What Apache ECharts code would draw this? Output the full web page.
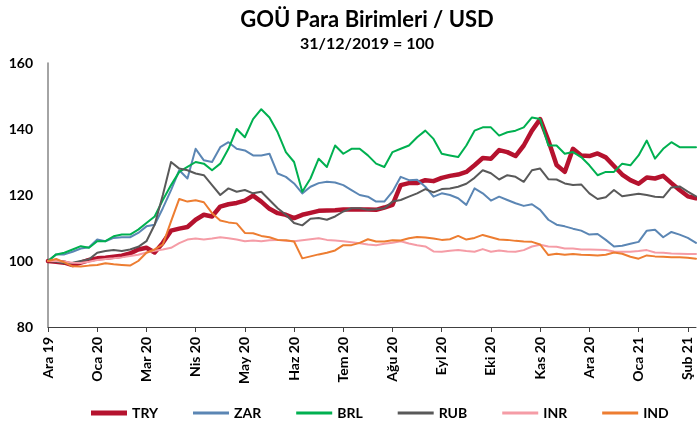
<!DOCTYPE html>
<html>
<head>
<meta charset="utf-8">
<title>GOÜ Para Birimleri / USD</title>
<script src="https://cdn.jsdelivr.net/npm/echarts@6/dist/echarts.min.js"></script>
<style>
  html, body {
    margin: 0;
    padding: 0;
    background: #fff;
  }
  #chart-line {
    width: 697px;
    height: 423px;
  }
</style>
</head>
<body>
<div id="chart-line"></div>
<script>
// ay etiketleri (her 6 noktada bir)
const tickLabels = ['Ara 19', 'Oca 20', 'Mar 20', 'Nis 20', 'May 20', 'Haz 20', 'Tem 20',
  'Ağu 20', 'Eyl 20', 'Eki 20', 'Kas 20', 'Ara 20', 'Oca 21', 'Şub 21']
const labelStep = 6

// 31/12/2019 = 100
const tryData = [100, 99.8, 99.5, 98.8, 99.5, 100.3, 100.8, 101, 101.3, 101.6,
  102.3, 103.5, 104, 102.6, 105.5, 109.2, 109.8, 110.3, 112.5, 114,
  113.5, 116.5, 117.2, 117.6, 118.3, 119.8, 118, 115.8, 114.5, 114,
  113, 114, 114.6, 115.2, 115.3, 115.4, 115.6, 115.6, 115.6, 115.6,
  115.5, 116.2, 117, 123, 123.6, 123.6, 124.5, 124.2, 125.2, 125.8,
  126.2, 127, 129, 131.2, 131, 133.6, 133, 131.8, 135, 139.5,
  143, 136.5, 129.1, 127, 134, 132, 131.8, 132.6, 131.4, 128.8,
  126.2, 124.5, 123.4, 125.3, 125, 125.8, 123.6, 121.5, 119.6, 119]
const zarData = [100, 102, 102, 102.8, 103.8, 104.2, 106.5, 106, 107, 107.2,
  107.2, 108.5, 110.5, 111, 116, 121.5, 127.5, 125, 134, 130.5,
  130, 134.5, 136, 134, 133.5, 132, 132, 132.5, 126.5, 125.5,
  123.5, 120.5, 122.5, 123.6, 124, 123.8, 123, 121.5, 120, 119.5,
  118, 118, 121, 125.5, 124.5, 124.6, 122.5, 119.5, 120.5, 120,
  119, 117, 122, 120.5, 118.3, 119.5, 118.5, 117.5, 116.7, 117.2,
  115.5, 112.5, 111, 110.5, 109.8, 109.2, 108, 108.2, 106.4, 104.4,
  104.6, 105.2, 105.8, 109.2, 109.5, 107.2, 108.8, 108, 107, 105.5]
const brlData = [100, 102, 102.5, 103.5, 104.5, 104, 106, 106, 107.5, 108,
  108, 109.5, 111.5, 113.5, 118.5, 123, 127, 128.5, 130, 129.5,
  127.5, 129.5, 134, 140, 137.5, 143, 146, 143.5, 139, 133,
  130, 121, 125, 131, 128.5, 135, 132.5, 134, 134, 132,
  129.5, 128.5, 133, 134, 135, 137.5, 139.5, 137, 132.5, 132,
  131.5, 135, 139.5, 140.5, 140.5, 138, 139, 139.5, 140.5, 143.5,
  143, 135, 135, 132.5, 133, 131.5, 129, 126, 127, 127,
  129.5, 129, 132, 136.5, 131, 134, 136, 134.5, 134.5, 134.5]
const rubData = [100, 99.8, 99.3, 99.5, 100, 100.5, 102.5, 103, 103.3, 103,
  103.5, 104.3, 106, 111, 120, 130, 128, 127.5, 126.5, 126,
  123, 120, 122, 121, 121.5, 120.5, 121, 118.5, 116, 114,
  111.5, 110.8, 112.8, 113, 112.5, 113.5, 115, 116, 116, 115.5,
  115.7, 116, 118, 118.5, 119.5, 120.5, 121.8, 120.8, 121.8, 122,
  122.5, 123.4, 125.2, 127.5, 126.6, 124.7, 126, 125.5, 124, 127.5,
  128, 124.8, 124.7, 123.5, 123, 123.2, 120.5, 118.8, 119.3, 121.5,
  119.6, 120, 120.4, 120, 119.5, 119.3, 122.3, 122.6, 121, 119.6]
const inrData = [100, 100, 99.8, 99.5, 99.4, 99.8, 100.3, 100.6, 100.8, 101.1,
  101.5, 101.9, 102.6, 103.1, 103.5, 104, 105.4, 106.5, 106.8, 106.5,
  106.8, 107.2, 106.9, 106.5, 106, 106.2, 106, 106.3, 106.4, 106.1,
  106, 106.3, 106.6, 106.9, 106.4, 106.2, 106, 105.7, 105.4, 105,
  104.8, 105.2, 105.5, 106, 105.3, 104.8, 104.4, 102.9, 102.8, 103.1,
  103.3, 103, 102.8, 103.6, 102.8, 103.2, 102.9, 102.8, 103.3, 104.4,
  104.9, 104.4, 104.3, 103.8, 103.8, 103.5, 103.5, 103.4, 103.3, 102.9,
  102.8, 102.8, 103, 103.3, 102.6, 102.5, 102.3, 102.2, 102.1, 102.1]
const indData = [100, 100.6, 99.6, 98.4, 98.3, 98.6, 98.8, 99.3, 99, 98.8,
  98.6, 100, 102.5, 103.5, 105, 112, 118.8, 118, 118.4, 117.8,
  114.5, 112.3, 111.7, 111.4, 108.5, 108.4, 107.6, 107.2, 106.4, 106.3,
  105.9, 100.8, 101.4, 102, 102.5, 103.2, 104.8, 104.8, 105.5, 106.6,
  105.9, 105.9, 106.3, 106.2, 106.9, 107.3, 107.1, 106.8, 106.4, 106.6,
  107.6, 106.5, 107, 107.9, 107.2, 106.5, 106.4, 106.1, 105.9, 105.8,
  105, 101.8, 102.2, 101.9, 102.1, 101.9, 101.8, 101.7, 101.9, 102.6,
  102.2, 101.3, 100.7, 101.7, 101.4, 101.3, 101.1, 101.1, 101, 100.7]

const seriesNames = ['TRY', 'ZAR', 'BRL', 'RUB', 'INR', 'IND']
const seriesValues = [tryData, zarData, brlData, rubData, inrData, indData]
const seriesColors = ['#B5122E', '#5B86B4', '#00B050', '#595959', '#F59CA6', '#ED7D31']
const seriesWidths = [4.5, 2, 2, 2, 2, 2]

const fontFamily = 'Lato, "Open Sans", sans-serif'
const xCats = tryData.map((v, i) => i)

let lineOption = {
  backgroundColor: '#fff',
  animation: false,
  title: [
    {
      text: 'GOÜ Para Birimleri / USD',
      left: 362,
      top: 4,
      textAlign: 'center',
      textStyle: {
        fontFamily: fontFamily,
        fontWeight: 'bold',
        fontSize: 22,
        color: '#000'
      }
    },
    {
      text: '31/12/2019 = 100',
      left: 362,
      top: 31,
      textAlign: 'center',
      textStyle: {
        fontFamily: fontFamily,
        fontWeight: 'bold',
        fontSize: 16,
        color: '#000'
      }
    }
  ],
  legend: {
    left: 86,
    top: 401,
    itemWidth: 36,
    itemHeight: 5,
    itemGap: 35,
    data: seriesNames.map((name, i) => ({
      name: name,
      icon: i === 0 ? 'path://M0,0H36V5H0Z' : 'path://M0,0H36V3H0Z'
    })),
    textStyle: {
      fontFamily: fontFamily,
      fontWeight: 'bold',
      fontSize: 14,
      color: '#000'
    }
  },
  grid: {
    top: 63,
    left: 48,
    right: 1,
    bottom: 96
  },
  xAxis: {
    type: 'category',
    boundaryGap: false,
    data: xCats,
    axisLine: {
      lineStyle: {
        color: '#404040',
        width: 1
      }
    },
    axisTick: {
      show: true,
      interval: labelStep - 1,
      length: 5,
      lineStyle: {
        color: '#404040'
      }
    },
    axisLabel: {
      interval: labelStep - 1,
      rotate: 90,
      margin: 10,
      fontFamily: fontFamily,
      fontWeight: 'bold',
      fontSize: 14,
      color: '#000',
      formatter: (value, index) => tickLabels[Math.round(index / labelStep)]
    },
    splitLine: {
      show: false
    }
  },
  yAxis: {
    type: 'value',
    min: 80,
    max: 160,
    interval: 20,
    axisLine: {
      show: true,
      lineStyle: {
        color: '#868686',
        width: 1.5
      }
    },
    axisTick: {
      show: false
    },
    axisLabel: {
      margin: 15,
      fontFamily: fontFamily,
      fontWeight: 'bold',
      fontSize: 14,
      color: '#000'
    },
    splitLine: {
      show: false
    }
  },
  series: []
}

seriesNames.forEach((name, i) => {
  lineOption.series.push({
    name: name,
    type: 'line',
    data: seriesValues[i],
    showSymbol: false,
    symbol: 'none',
    color: seriesColors[i],
    lineStyle: {
      color: seriesColors[i],
      width: seriesWidths[i],
      cap: 'round',
      join: 'round'
    }
  })
})

let myLineChart = echarts.init(document.getElementById('chart-line'))
myLineChart.setOption(lineOption)
</script>
</body>
</html>
